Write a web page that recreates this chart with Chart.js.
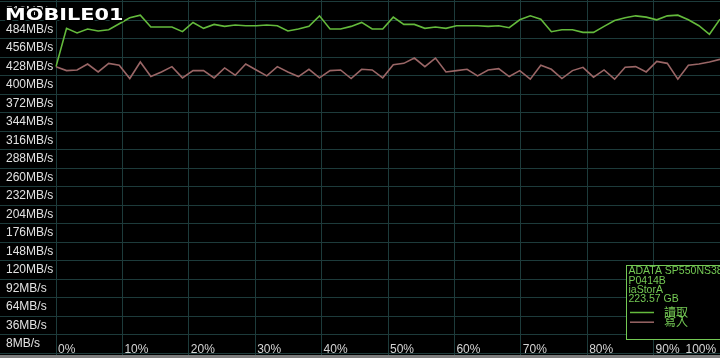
<!DOCTYPE html>
<html><head><meta charset="utf-8">
<script src="https://cdn.jsdelivr.net/npm/chart.js@4"></script>
<style>
html,body{margin:0;padding:0;background:#7d7d7d;}
#wrap{width:720px;height:355px;background:#000;}
canvas{display:block;}
</style></head><body>
<div id="wrap"><canvas id="c" width="720" height="355"></canvas></div>
<script>
// ---- data (MB/s), 64 samples across 0%..100% of the drive ----
const readMBs = [428,486,479,485,482,484,493,502,506,488,488,488,481,495,486,492,489,491,490,490,491,490,482,485,489,505,485,485,489,495,485,485,503,492,492,486,488,486,490,490,490,489,490,487,499,505,500,481,484,484,480,480,489,498,502,505,503,499,505,506,499,490,477,500];
const writeMBs = [428,422,423,432,420,433,430,410,435,413,420,428,411,422,422,411,426,415,432,423,414,428,420,413,424,411,422,423,410,424,423,411,431,433,441,428,441,420,422,424,414,423,425,413,422,409,430,424,410,422,427,412,423,409,427,428,420,436,433,409,430,432,435,439];
const seriesNames = ['讀取', '寫入'];
const deviceInfo = ['ADATA SP550NS38', 'P0414B', 'iaStorA', '223.57 GB'];
const logoText = 'MOBILE01';

// ---- axis ticks ----
const yLabelValues = [8,36,64,92,120,148,176,204,232,260,288,316,344,372,400,428,456,484,512];
const yGridValues = [-6,22,50,78,106,134,162,190,218,246,274,302,330,358,386,414,442,470,498,526];
const xTickValues = [0,10,20,30,40,50,60,70,80,90,100];
const xTickLabels = ['0%','10%','20%','30%','40%','50%','60%','70%','80%','90%','100%'];

const GRID = '#1d3b3b';
const READ_COLOR = '#64ba3c';
const WRITE_COLOR = '#9a6666';
const LEGEND_GREEN = '#74c954';

const yLabelSet = new Set(yLabelValues);
const yTicks = [...yLabelValues, ...yGridValues].sort((a,b)=>a-b);
// the last label ("100%") is drawn left of the right edge, as in the reference
const LAST_LABEL_POS = 94.5;
const xTicks = [];
xTickValues.forEach((v,i)=>{
  if (i === xTickValues.length-1) {
    xTicks.push({value: LAST_LABEL_POS, label: xTickLabels[i], grid: false});
    xTicks.push({value: v, label: '', grid: true});
  } else xTicks.push({value: v, label: xTickLabels[i], grid: true});
});

const overlay = {
  id: 'overlay',
  afterDraw(chart) {
    const ctx = chart.ctx;
    // logo watermark
    ctx.save();
    ctx.translate(5, 19.5);
    ctx.scale(1.3, 1);
    ctx.font = 'bold 16px "DejaVu Sans"';
    ctx.lineJoin = 'round';
    ctx.lineWidth = 3;
    ctx.strokeStyle = '#000';
    ctx.strokeText(logoText, 0, 0);
    ctx.fillStyle = '#fff';
    ctx.fillText(logoText, 0, 0);
    ctx.restore();

    // info / legend box
    ctx.save();
    ctx.fillStyle = '#000';
    ctx.fillRect(627, 266, 100, 73);
    ctx.strokeStyle = LEGEND_GREEN;
    ctx.lineWidth = 1;
    ctx.strokeRect(626.5, 265.5, 100, 74);
    ctx.fillStyle = LEGEND_GREEN;
    ctx.textBaseline = 'middle';
    ctx.textAlign = 'left';
    ctx.font = '10.5px "Liberation Sans", Arial, sans-serif';
    deviceInfo.forEach((t, i) => ctx.fillText(t, 628.5, 271.5 + i * 9.2));
    ctx.font = '12px "Noto Sans CJK TC", sans-serif';
    chart.data.datasets.forEach((ds, i) => {
      const y = 312.5 + i * 9.7;
      ctx.strokeStyle = ds.borderColor;
      ctx.lineWidth = 1.5;
      ctx.beginPath(); ctx.moveTo(630, y); ctx.lineTo(654, y); ctx.stroke();
      ctx.fillStyle = LEGEND_GREEN;
      ctx.fillText(ds.label, 664, y - 0.5);
    });
    ctx.restore();
  }
};

new Chart(document.getElementById('c'), {
  type: 'line',
  data: {
    labels: readMBs.map((_, i) => i),
    datasets: [
      {label: seriesNames[0], data: readMBs, borderColor: READ_COLOR, borderWidth: 1.6, pointRadius: 0, tension: 0, fill: false},
      {label: seriesNames[1], data: writeMBs, borderColor: WRITE_COLOR, borderWidth: 1.6, pointRadius: 0, tension: 0, fill: false}
    ]
  },
  options: {
    responsive: false,
    animation: false,
    devicePixelRatio: 1,
    layout: {padding: {left: 6, right: 0, top: 0, bottom: 0}},
    plugins: {legend: {display: false}, tooltip: {enabled: false}},
    scales: {
      x: {type: 'category', display: false, offset: false},
      pct: {
        type: 'linear', axis: 'x', position: 'bottom', min: 0, max: 100,
        afterBuildTicks: s => { s.ticks = xTicks.map(t => ({value: t.value})); },
        afterFit: s => { s.height = 0; s.paddingLeft = 0; s.paddingRight = 0; },
        border: {display: false},
        grid: {
          color: c => (c.tick && xTicks.find(t => t.value === c.tick.value && !t.grid)) ? 'rgba(0,0,0,0)' : GRID,
          drawTicks: false, lineWidth: 1
        },
        ticks: {
          mirror: true, align: 'start', labelOffset: 2, padding: -2, autoSkip: false, maxRotation: 0,
          color: '#d4d4d4', font: {family: '"Liberation Sans", Arial, sans-serif', size: 12},
          callback: v => { const t = xTicks.find(t => t.value === v); return t ? t.label : ''; }
        }
      },
      y: {
        type: 'linear', position: 'left', min: -9, max: 529,
        afterBuildTicks: s => { s.ticks = yTicks.map(v => ({value: v})); },
        afterFit: s => { s.width = 50; s.paddingTop = 0; s.paddingBottom = 0; },
        border: {display: false},
        grid: {
          color: c => (c.tick && yLabelSet.has(c.tick.value)) ? 'rgba(0,0,0,0)' : GRID,
          drawTicks: true, tickLength: 56, lineWidth: 1
        },
        ticks: {
          crossAlign: 'far', autoSkip: false, padding: 0,
          color: '#e2e2e2', font: {family: '"Liberation Sans", Arial, sans-serif', size: 12},
          callback: v => yLabelSet.has(v) ? v + 'MB/s' : ''
        }
      }
    }
  },
  plugins: [overlay]
});
</script>
</body></html>
